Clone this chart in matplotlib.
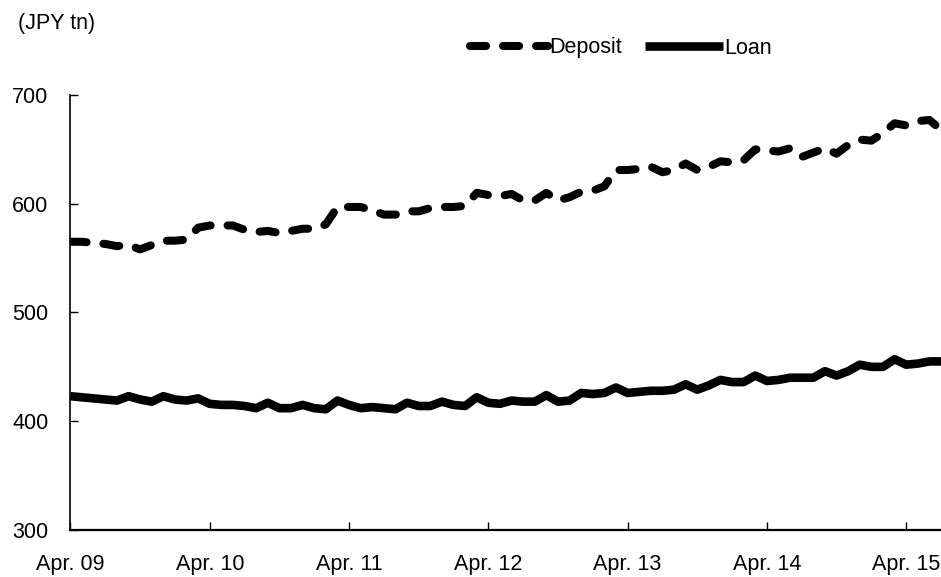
import matplotlib

matplotlib.use("Agg")
import matplotlib.pyplot as plt
import numpy as np

plt.rcParams["font.family"] = ["Liberation Sans", "DejaVu Sans"]

# monthly, Apr. 09 .. Jul. 15 (JPY tn)
deposit = [
    565, 565, 564, 563, 561, 562, 558, 562, 566, 566, 567, 578,
    580, 580, 580, 576, 574, 575, 573, 575, 577, 577, 581, 597,
    597, 597, 594, 590, 590, 593, 593, 596, 597, 597, 598, 610,
    608, 607, 609, 603, 603, 610, 603, 606, 611, 612, 616, 631,
    631, 632, 634, 629, 631, 637, 631, 634, 639, 638, 640, 650,
    649, 648, 651, 643, 647, 651, 646, 654, 659, 658, 665, 674,
    672, 676, 677, 668,
]
loan = [
    423, 422, 421, 420, 419, 423, 420, 418, 423, 420, 419, 421,
    416, 415, 415, 414, 412, 417, 412, 412, 415, 412, 411, 419,
    415, 412, 413, 412, 411, 417, 414, 414, 418, 415, 414, 422,
    417, 416, 419, 418, 418, 424, 418, 419, 426, 425, 426, 431,
    426, 427, 428, 428, 429, 434, 429, 433, 438, 436, 436, 442,
    437, 438, 440, 440, 440, 446, 442, 446, 452, 450, 450, 457,
    452, 453, 455, 455,
]
tick_months = [0, 12, 24, 36, 48, 60, 72]
tick_labels = ["Apr. 09", "Apr. 10", "Apr. 11", "Apr. 12", "Apr. 13", "Apr. 14", "Apr. 15"]
y_ticks = [300, 400, 500, 600, 700]

fig = plt.figure(figsize=(9.41, 5.77), dpi=100)
ax = fig.add_axes([0.0749, 0.0815, 0.9251, 0.7539])

x = np.arange(len(deposit))
ax.plot(x, deposit, color="black", lw=5.8, dashes=(2.0, 2.1),
        dash_capstyle="round", solid_joinstyle="round", label="Deposit")
ax.plot(x, loan, color="black", lw=6.2, solid_capstyle="butt",
        solid_joinstyle="round", label="Loan")

ax.set_xlim(0, 75)
ax.set_ylim(300, 700)
ax.set_xticks(tick_months)
ax.set_xticklabels(tick_labels)
ax.set_yticks(y_ticks)

for side in ("top", "right"):
    ax.spines[side].set_visible(False)
ax.spines["left"].set_linewidth(1.2)
ax.spines["bottom"].set_linewidth(1.6)
ax.tick_params(axis="x", direction="in", length=6, width=1.0, pad=17, labelsize=15.5)
ax.tick_params(axis="y", direction="in", length=6, width=1.0, pad=16, labelsize=15.5)

fig.text(18 / 941, 1 - 23 / 577, "(JPY tn)", fontsize=15.5, ha="left", va="center")
fig.legend(loc="center", bbox_to_anchor=(621 / 941, 1 - 48 / 577), ncol=2,
           frameon=False, fontsize=15.5, handlelength=3.6, handletextpad=0.05,
           columnspacing=1.1, borderpad=0, borderaxespad=0)

fig.savefig("out.png", dpi=100)
